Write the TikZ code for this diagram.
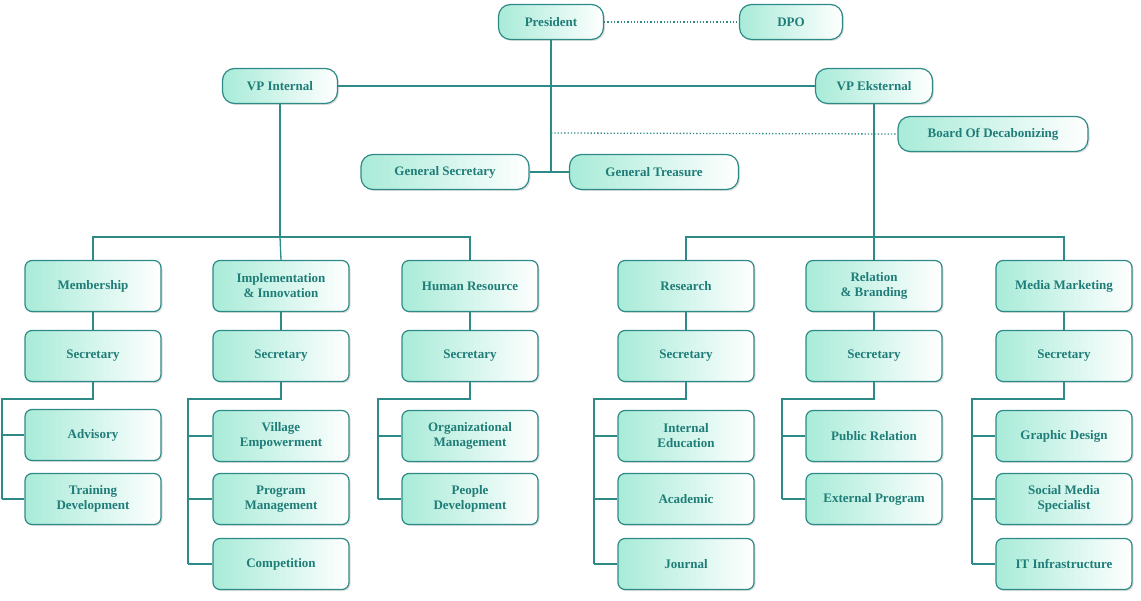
\documentclass[tikz,border=0pt]{standalone}
\usepackage{fontspec}
\setmainfont{Liberation Serif}
\usetikzlibrary{shadows}
\definecolor{tl}{HTML}{2E8A87}
\definecolor{tx}{HTML}{1F7D78}
\definecolor{fl}{HTML}{A8EBD8}
\newcommand\kids[4]{%
  \draw[ln] (#1s.south) -- ++(0,17) -| (#2,#3);
  \foreach \y/\t in {#4}{
    \node[box] (#1\y) at (#1s.center |- 0,\y) {\t};
    \draw[ln] (#2,\y) -- (#1\y.west);
  }}
\begin{document}
\begin{tikzpicture}[x=1pt,y=-1pt,
 base/.style={draw=tl,line width=1.2pt,left color=fl,right color=white,text=tx,
   font=\fontsize{13}{15}\selectfont\bfseries,align=center,
   drop shadow={shadow xshift=1.5pt,shadow yshift=-1.5pt,opacity=0.25}},
 pill/.style={base,rounded corners=12pt,minimum height=35pt,inner sep=0pt},
 box/.style={base,rounded corners=7pt,minimum width=136pt,minimum height=51pt,inner sep=0pt},
 ln/.style={draw=tl,line width=1.3pt},
 dl/.style={ln,dotted}]
\useasboundingbox (0,0) rectangle (1141,601);
\node[pill,minimum width=105pt] (pres) at (551,22) {President};
\node[pill,minimum width=103pt] (dpo) at (791,22) {DPO};
\node[pill,minimum width=115pt] (vpi) at (280,86) {VP Internal};
\node[pill,minimum width=117pt] (vpe) at (874,86) {VP Eksternal};
\node[pill,minimum width=190pt] (bod) at (993,134) {Board Of Decabonizing};
\node[pill,minimum width=168pt] (gs) at (445,172) {General Secretary};
\node[pill,minimum width=169pt] (gt) at (654,172) {General Treasure};
\coordinate (pj) at (551,172);
\coordinate (pb) at (551,133);
\draw[dl] (pres) -- (dpo);
\draw[ln] (vpi) -- (vpe);
\draw[ln] (pres) -- (pj);
\draw[ln] (gs) -- (gt);
\draw[dl] (pb) -- (bod.west);
\foreach \n/\x/\t in {m/93/Membership, ii/281/Implementation\\\& Innovation, hr/470/Human Resource,
  rs/686/Research, rb/874/Relation\\\& Branding, mm/1064/Media Marketing}{
  \node[box] (\n) at (\x,286) {\t};
  \node[box] (\n s) at (\x,356) {Secretary};
}
\draw[ln] (vpi) -- (280,237) coordinate (bi);
\draw[ln] (m.north) |- (bi) -| (hr.north);
\draw[ln] (bi) -- (ii.north);
\draw[ln] (vpe.south) -- (874,237) coordinate (be);
\draw[ln] (rs.north) |- (be) -| (mm.north);
\draw[ln] (be) -- (rb.north);
\foreach \n in {m,ii,hr,rs,rb,mm}{\draw[ln] (\n) -- (\n s);}
\kids{m}{2}{499}{435/Advisory, 499/Training\\Development}
\kids{ii}{188}{564}{436/Village\\Empowerment, 499/Program\\Management, 564/Competition}
\kids{hr}{378}{499}{436/Organizational\\Management, 499/People\\Development}
\kids{rs}{594}{564}{436/Internal\\Education, 499/Academic, 564/Journal}
\kids{rb}{782}{499}{436/Public Relation, 499/External Program}
\kids{mm}{972}{564}{436/Graphic Design, 499/Social Media\\Specialist, 564/IT Infrastructure}
\end{tikzpicture}
\end{document}
